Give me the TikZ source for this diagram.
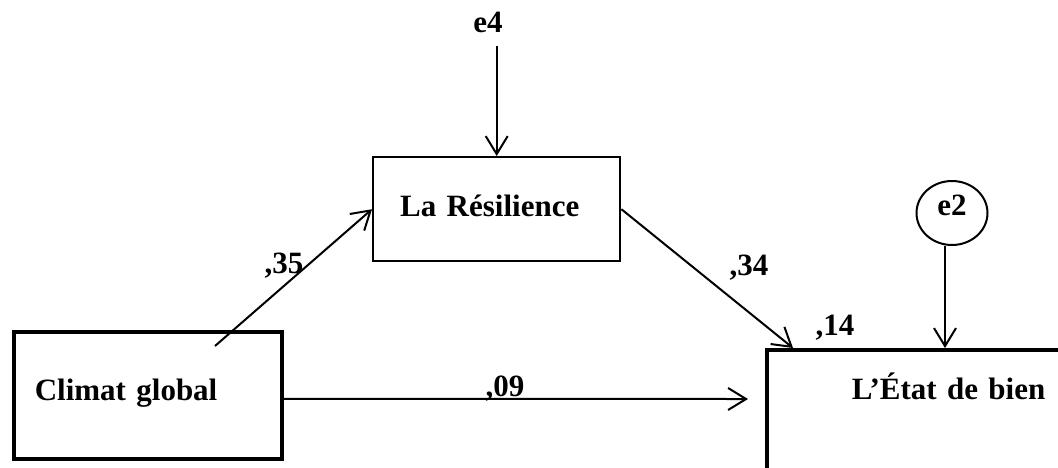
\documentclass[tikz,border=0pt]{standalone}
\usepackage{fontspec}
\setmainfont{Liberation Serif}
\usetikzlibrary{shapes}
\usetikzlibrary{positioning}
\usetikzlibrary{arrows.meta}
\tikzset{
    bigfont/.style = {font=\bfseries\fontsize{31}{36}\selectfont},
    varbox/.style = {rectangle, draw=black, bigfont, align=left, inner ysep=0pt, anchor=north west},
    boxk/.style = {varbox, line width=3.6pt},
    boxm/.style = {varbox, line width=2.4pt},
    errnode/.style = {ellipse, draw=black, line width=2pt, bigfont, inner sep=0pt, minimum width=71pt, minimum height=64pt},
    coef/.style = {bigfont, anchor=base, inner sep=0pt},
    edgen/.style = {-{Straight Barb[length=18pt,width=22pt]}, line width=2pt}
}
\begin{document}
\begin{tikzpicture}[x=1pt,y=-1pt]
\useasboundingbox (0,0) rectangle (1058,467);
%
\node[boxk, text width=226pt, inner xsep=21pt, text height=69pt, text depth=58pt] at (12,330) (climat) {Climat global};
\node[boxm, text width=193pt, inner xsep=27pt, text height=59pt, text depth=45pt] at (372,156) (res) {La Résilience};
\node[boxk, text width=300pt, inner xsep=85pt, text height=50pt, text depth=140pt] at (765,348) (etat) {L’État de bien};
\node[coef] at (488,32) (e4) {e4};
\node[errnode, text height=21pt, text depth=17pt] at (952,213) (e2) {e2};
\coordinate (cstart) at (215,346);
%
\node[coef] at (284,273) (c35) {,35};
\node[coef] at (749,275) (c34) {,34};
\node[coef] at (505,396) (c09) {,09};
\node[coef] at (835,335) (c14) {,14};
%
\draw[edgen] (cstart) -- (res.west);
\draw[edgen] (res.east) -- ([xshift=28pt]etat.north west);
\draw[edgen] ([yshift=-3.5pt]climat.east) -- ([xshift=-17pt,yshift=-51pt]etat.north west);
\draw[edgen, shorten <=14pt] (e4.south -| res.north) -- (res.north);
\draw[edgen] ([xshift=-7pt]e2.south) -- ([xshift=-7pt]e2.south |- etat.north);
\end{tikzpicture}
\end{document}
